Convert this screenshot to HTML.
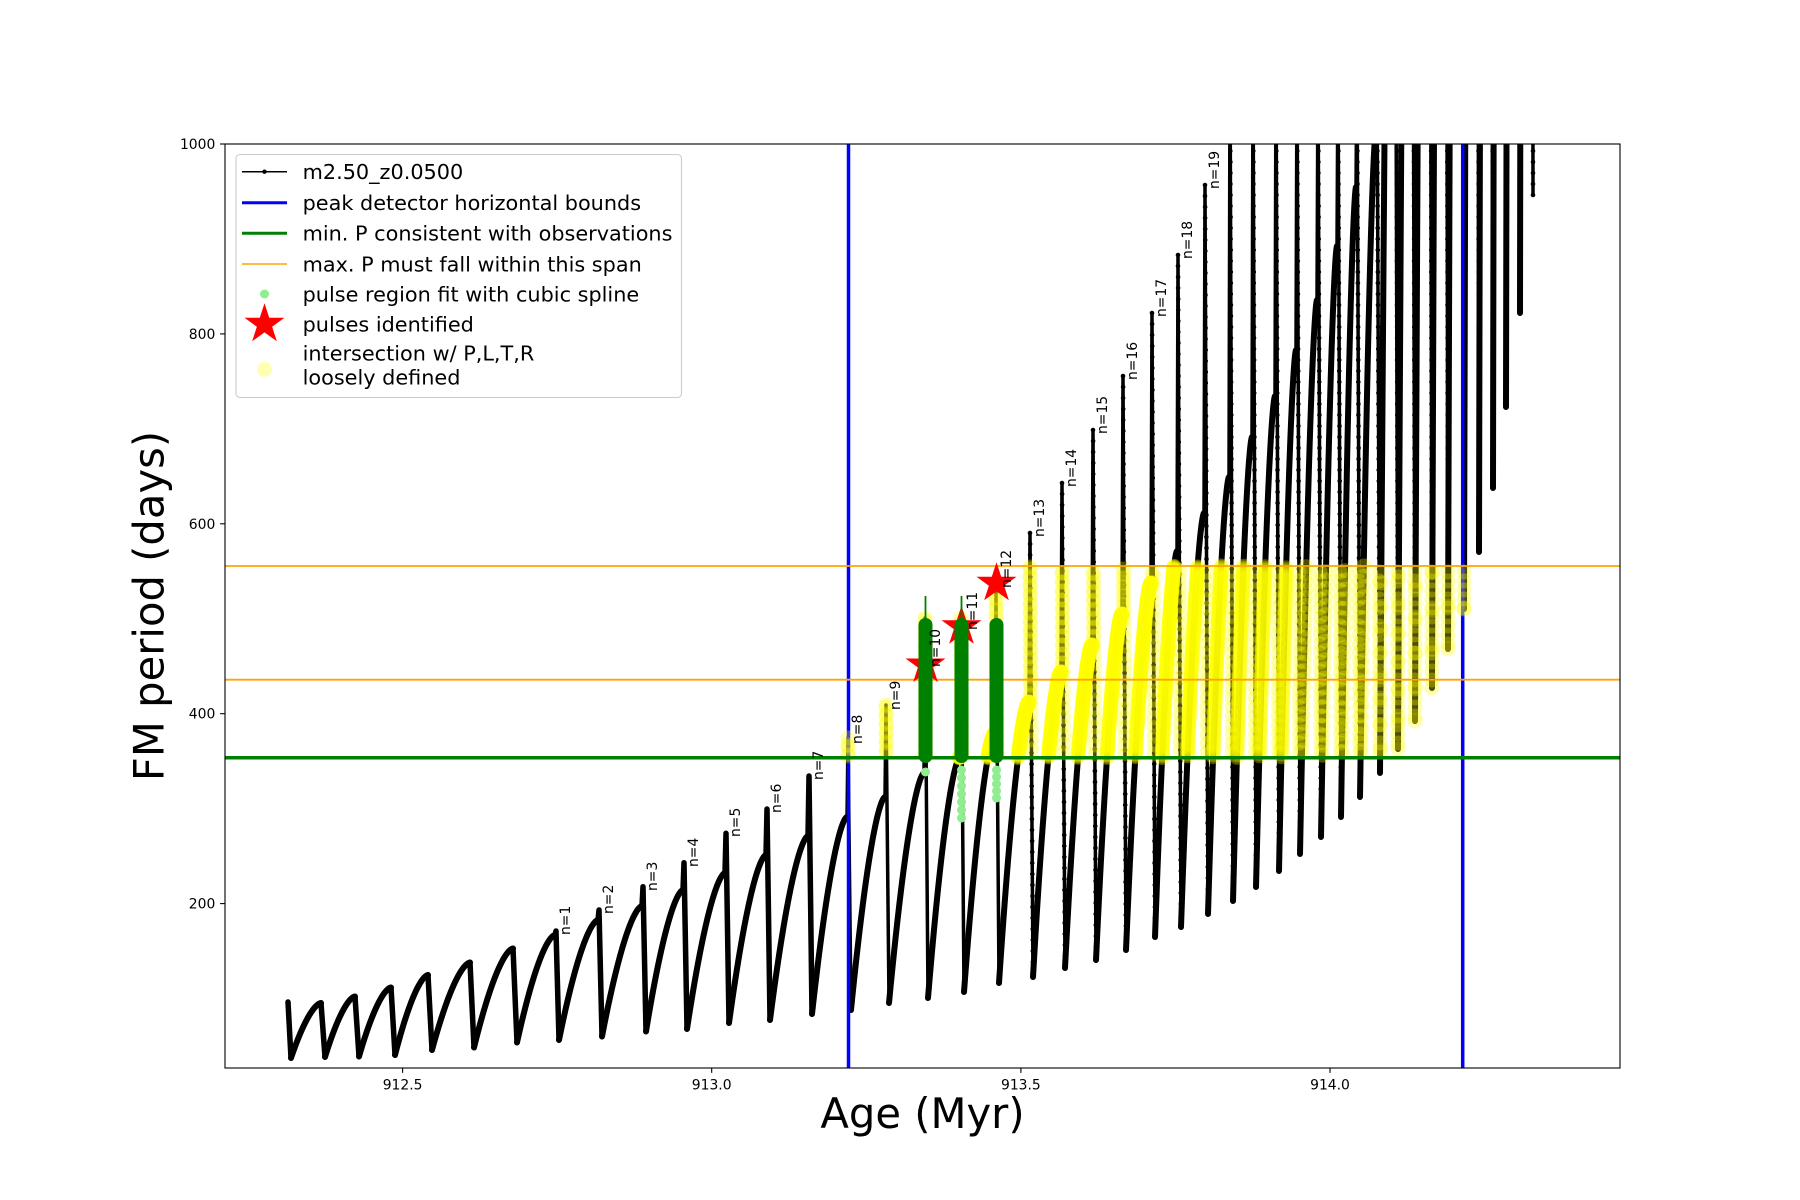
<!DOCTYPE html>
<html><head><meta charset="utf-8">
<style>
html,body{margin:0;padding:0;background:#fff;}
svg{display:block;}
text{font-family:"DejaVu Sans","Liberation Sans",sans-serif;}
</style>
</head><body>
<svg id="s" width="1800" height="1200" viewBox="0 0 1800 1200" xmlns="http://www.w3.org/2000/svg">
<defs><clipPath id="ax"><rect x="225" y="144" width="1395" height="924"/></clipPath></defs>
<rect width="1800" height="1200" fill="#fff"/>
<g clip-path="url(#ax)">
  <g id="rise" fill="none" stroke="#000" stroke-width="6" stroke-linejoin="round" stroke-linecap="round"></g>
  <g id="drop1" fill="none" stroke="#000" stroke-width="5.5" stroke-linejoin="round" stroke-linecap="round"></g>
  <g id="drop2" fill="none" stroke="#000" stroke-width="3.5" stroke-linejoin="round" stroke-linecap="round"></g>
  <g id="dots" fill="#000"></g>
  <line x1="848.5" y1="144" x2="848.5" y2="1068" stroke="#0000ff" stroke-width="3.5"/>
  <line x1="1462.7" y1="144" x2="1462.7" y2="1068" stroke="#0000ff" stroke-width="3.5"/>
  <g id="yel" fill="#ffff00" fill-opacity="0.3"></g>
  <line x1="225" y1="757.7" x2="1620" y2="757.7" stroke="#008000" stroke-width="3.5"/>
  <line x1="225" y1="566" x2="1620" y2="566" stroke="#ffa500" stroke-width="1.8"/>
  <line x1="225" y1="679.7" x2="1620" y2="679.7" stroke="#ffa500" stroke-width="1.8"/>
  <g id="stars" fill="#ff0000"></g>
  <g fill="#90ee90">
    <circle cx="925.5" cy="772" r="4.5"/>
    <circle cx="961.5" cy="770" r="4.5"/><circle cx="961.5" cy="778" r="4.5"/><circle cx="961.5" cy="786" r="4.5"/><circle cx="961.5" cy="794" r="4.5"/><circle cx="961.5" cy="802" r="4.5"/><circle cx="961.5" cy="810" r="4.5"/><circle cx="961.5" cy="818" r="4.5"/>
    <circle cx="996.5" cy="770" r="4.5"/><circle cx="996.5" cy="777" r="4.5"/><circle cx="996.5" cy="784" r="4.5"/><circle cx="996.5" cy="791" r="4.5"/><circle cx="996.5" cy="798" r="4.5"/>
  </g>
  <line x1="925.5" y1="596" x2="925.5" y2="624" stroke="#008000" stroke-width="1.8"/>
  <line x1="961.5" y1="596" x2="961.5" y2="624" stroke="#008000" stroke-width="1.8"/>
  <g fill="#008000">
    <rect x="918.5" y="618" width="14" height="145" rx="7"/>
    <rect x="954.5" y="618" width="14" height="145" rx="7"/>
    <rect x="989.5" y="618" width="14" height="145" rx="7"/>
  </g>
</g>
<g id="labels" font-size="13.9" fill="#000"></g>
<rect x="225" y="144" width="1395" height="924" fill="none" stroke="#000" stroke-width="1.1"/>
<g stroke="#000" stroke-width="1.1">
  <line x1="220.1" y1="903.6" x2="225" y2="903.6"/>
  <line x1="220.1" y1="713.7" x2="225" y2="713.7"/>
  <line x1="220.1" y1="523.8" x2="225" y2="523.8"/>
  <line x1="220.1" y1="333.9" x2="225" y2="333.9"/>
  <line x1="220.1" y1="144" x2="225" y2="144"/>
  <line x1="402.6" y1="1068" x2="402.6" y2="1072.9"/>
  <line x1="711.7" y1="1068" x2="711.7" y2="1072.9"/>
  <line x1="1020.9" y1="1068" x2="1020.9" y2="1072.9"/>
  <line x1="1330" y1="1068" x2="1330" y2="1072.9"/>
</g>
<g font-size="13.9" fill="#000" text-anchor="end">
  <text x="215.3" y="908.6">200</text>
  <text x="215.3" y="718.7">400</text>
  <text x="215.3" y="528.8">600</text>
  <text x="215.3" y="338.9">800</text>
  <text x="215.3" y="149">1000</text>
</g>
<g font-size="13.9" fill="#000" text-anchor="middle">
  <text x="402.6" y="1089.5">912.5</text>
  <text x="711.7" y="1089.5">913.0</text>
  <text x="1020.9" y="1089.5">913.5</text>
  <text x="1330" y="1089.5">914.0</text>
</g>
<text x="922.5" y="1128" font-size="41.7" text-anchor="middle" fill="#000">Age (Myr)</text>
<text transform="translate(163.5,606) rotate(-90)" font-size="41.7" text-anchor="middle" fill="#000">FM period (days)</text>
<rect x="236" y="154.5" width="445.5" height="243" rx="4" fill="#fff" fill-opacity="0.8" stroke="#cccccc" stroke-width="1.1"/>
<line x1="242" y1="171.7" x2="287" y2="171.7" stroke="#000" stroke-width="1.5"/>
<circle cx="264.5" cy="171.7" r="2.2" fill="#000"/>
<line x1="242" y1="202.7" x2="287" y2="202.7" stroke="#0000ff" stroke-width="3"/>
<line x1="242" y1="233.3" x2="287" y2="233.3" stroke="#008000" stroke-width="3"/>
<line x1="242" y1="264" x2="287" y2="264" stroke="#ffa500" stroke-width="1.5"/>
<circle cx="264.5" cy="294" r="4.5" fill="#90ee90"/>
<g id="legstar" fill="#ff0000"></g>
<circle cx="264.5" cy="369.3" r="7.5" fill="#ffff00" fill-opacity="0.3"/>
<g font-size="20.8" fill="#000">
  <text x="302.6" y="179">m2.50_z0.0500</text>
  <text x="302.6" y="210">peak detector horizontal bounds</text>
  <text x="302.6" y="240.6">min. P consistent with observations</text>
  <text x="302.6" y="271.3">max. P must fall within this span</text>
  <text x="302.6" y="301.3">pulse region fit with cubic spline</text>
  <text x="302.6" y="331.6">pulses identified</text>
  <text x="302.6" y="360.7">intersection w/ P,L,T,R</text>
  <text x="302.6" y="384.3">loosely defined</text>
</g>
</svg>
<script>
(function(){
const P=[[288,null,1002,1058],[322,1003,null,1057],[356,996.5,null,1056.5],[392,987.5,null,1055],[429,975,null,1050],[471,962.5,null,1047.5],[514,948.5,null,1042.5],
[556,935,931,1040],[599,920,910,1036.5],[643,906,886.7,1031.5],[684,890,862.7,1029],[726,873,833.3,1023],[767,855,809,1020],[809,836,776,1014],[848,817,738,1010],[886,797,705,1003],[925,773,618,998],[961,757,618,992],[996,733,592,983],[1030,702,533,977],[1062,672,483,968],[1093,645,430,960],[1123,614,376,950],[1152,583,313,937],[1178,551,255,927],[1205,513,185,914],[1230,477,60,901],[1253,437,60,887],[1276,396,60,871],[1297,350,60,854],[1318,300,60,837],[1338,246,60,817],[1357,187,60,797],[1377,130,60,773],[1395,-600,null,749],[1412,-900,null,721],[1429,-1200,null,688],[1445,-1500,null,649],[1461,-1800,null,609],[1476,-2100,null,552],[1490,-2400,null,488],[1503,-2700,null,407],[1517,-3000,null,313],[1530,-3300,null,195]];
const f=t=>1-Math.pow(1-t,1.6);
const inb=(x,y)=>x>=840&&x<=1466&&y>=566&&y<=757.7;
const C=(x,y)=>'<circle cx="'+x.toFixed(1)+'" cy="'+y.toFixed(1)+'" r="7.5"/>';
let R='',D1='',D2='',DOT='',Y='';
for(let i=0;i<P.length;i++){
  const x=P[i][0],h=P[i][1],s=P[i][2],m=P[i][3];
  if(i>0){
    const px=P[i-1][0]+3,pm=P[i-1][3],x1=x-1;
    let d='M'+px+' '+pm;
    for(let k=1;k<=80;k++){const t=k/80;d+='L'+(px+(x1-px)*t).toFixed(2)+' '+(pm+(h-pm)*f(t)).toFixed(2);}
    R+='<path d="'+d+'"/>';
    const NY=x<1300?300:90;
    for(let k=0;k<=NY;k++){const t=k/NY;const xx=px+(x1-px)*t,yy=pm+(h-pm)*f(t);if(inb(xx,yy))Y+=C(xx,yy);}
  }
  let top,d;
  if(i===0){d='M'+x+' '+s+'L'+(x+3)+' '+m;top=s;}
  else if(s!==null&&s<h){
    d='M'+(x-1)+' '+h+'L'+x+' '+s+'L'+(x+3)+' '+m;top=s;
    for(let yy=h;yy>=s;yy-=9){if(inb(x,yy))Y+=C(x,yy);}
  } else {d='M'+(x-1)+' '+h+'L'+(x+3)+' '+m;top=h;}
  if(i<14) D1+='<path d="'+d+'"/>'; else D2+='<path d="'+d+'"/>';
  const t0=Math.max(top,140);
  for(let yy=t0;yy<=m;yy+=9){const xx=x+3*(yy-top)/(m-top);if(inb(xx,yy))Y+=C(xx,yy);}
  if(i>=19){for(let yy=t0;yy<=m;yy+=11){const xx=x+3*(yy-top)/(m-top);DOT+='<circle cx="'+xx.toFixed(1)+'" cy="'+yy.toFixed(1)+'" r="2.3"/>';}}
}
document.getElementById('rise').innerHTML=R;
document.getElementById('drop1').innerHTML=D1;
document.getElementById('drop2').innerHTML=D2;
document.getElementById('dots').innerHTML=DOT;
document.getElementById('yel').innerHTML=Y;
function star(cx,cy,Rr){let p='';for(let k=0;k<10;k++){const a=(-90+k*36)*Math.PI/180;const r=k%2?Rr*0.382:Rr;p+=(k?'L':'M')+(cx+r*Math.cos(a)).toFixed(2)+' '+(cy+r*Math.sin(a)).toFixed(2);}return '<path d="'+p+'Z"/>';}
document.getElementById('stars').innerHTML=star(925.5,665,21)+star(961.5,626.7,21)+star(996.5,583.3,21);
document.getElementById('legstar').innerHTML=star(264.5,324.3,21);
const L=[[1,570,935],[2,613,914],[3,657,891],[4,698,867],[5,740,837],[6,781,813],[7,823,780],[8,862,744],[9,900,710],[10,940,667],[11,977,630],[12,1011,588],[13,1044,537],[14,1076,487],[15,1107,434],[16,1137,380],[17,1166,317],[18,1192,259],[19,1219,189]];
let T='';
for(const l of L){T+='<text transform="translate('+l[1]+','+l[2]+') rotate(-90)">n='+l[0]+'</text>';}
document.getElementById('labels').innerHTML=T;
})();
</script>
</body></html>
